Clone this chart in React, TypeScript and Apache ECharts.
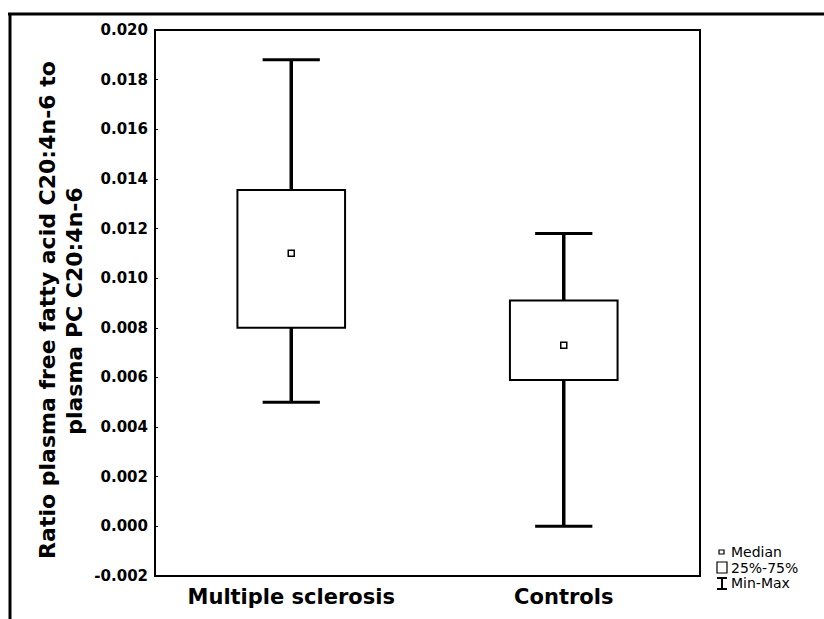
import React, { useEffect, useRef } from "react";
import * as echarts from "echarts";

const categories = ["Multiple sclerosis", "Controls"];
const minValues = [0.005, 0.0];
const q1Values = [0.008, 0.0059];
const medianValues = [0.011, 0.0073];
const q3Values = [0.01355, 0.0091];
const maxValues = [0.0188, 0.0118];
const yTicks = { min: -0.002, max: 0.02, interval: 0.002 };
const yTitleLines = ["Ratio plasma free fatty acid C20:4n-6 to", "plasma PC C20:4n-6"];
const legendLabels = ["Median", "25%-75%", "Min-Max"];

export default function App() {
  const ref = useRef<HTMLDivElement>(null);
  useEffect(() => {
    if (!ref.current) return;
    const chart = echarts.init(ref.current, null, { renderer: "svg" });
    const data = categories.map((_, i) => [i, minValues[i], q1Values[i], medianValues[i], q3Values[i], maxValues[i]]);
    const bold = "DejaVu Sans";
    chart.setOption({
      animation: false,
      backgroundColor: "#fff",
      grid: { left: 155, right: 124, top: 30, bottom: 43, show: true, borderColor: "#000", borderWidth: 2, backgroundColor: "transparent" },
      xAxis: {
        type: "category",
        data: categories,
        boundaryGap: true,
        axisLine: { show: true, onZero: false, lineStyle: { color: "#000", width: 2 } },
        axisTick: { show: false },
        axisLabel: { color: "#000", fontFamily: bold, fontWeight: "bold", fontSize: 21, margin: 10 },
        splitLine: { show: false },
      },
      yAxis: {
        type: "value",
        min: yTicks.min,
        max: yTicks.max,
        interval: yTicks.interval,
        axisLine: { show: true, lineStyle: { color: "#000", width: 2 } },
        axisTick: { show: true, inside: true, length: 3, lineStyle: { color: "#000" } },
        splitLine: { show: false },
        axisLabel: {
          color: "#000",
          fontFamily: bold,
          fontWeight: "bold",
          fontSize: 15,
          margin: 7,
          formatter: (v: number) => (Math.abs(v) < 1e-9 ? "0.000" : v.toFixed(3)),
        },
      },
      series: [
        {
          type: "custom",
          data,
          encode: { x: 0, y: [1, 2, 3, 4, 5] },
          renderItem: (params: any, api: any) => {
            const idx = api.value(0);
            const x = api.coord([idx, 0])[0];
            const band = api.size([1, 0])[0];
            const yMin = api.coord([idx, api.value(1)])[1];
            const yQ1 = api.coord([idx, api.value(2)])[1];
            const yMed = api.coord([idx, api.value(3)])[1];
            const yQ3 = api.coord([idx, api.value(4)])[1];
            const yMax = api.coord([idx, api.value(5)])[1];
            const boxW = band * 0.395;
            const capW = band * 0.21;
            const ms = 6;
            return {
              type: "group",
              children: [
                { type: "line", shape: { x1: x, y1: yMax, x2: x, y2: yQ3 }, style: { stroke: "#000", lineWidth: 3.5 } },
                { type: "line", shape: { x1: x, y1: yQ1, x2: x, y2: yMin }, style: { stroke: "#000", lineWidth: 3.5 } },
                { type: "line", shape: { x1: x - capW / 2, y1: yMax, x2: x + capW / 2, y2: yMax }, style: { stroke: "#000", lineWidth: 3 } },
                { type: "line", shape: { x1: x - capW / 2, y1: yMin, x2: x + capW / 2, y2: yMin }, style: { stroke: "#000", lineWidth: 3 } },
                { type: "rect", shape: { x: x - boxW / 2, y: yQ3, width: boxW, height: yQ1 - yQ3 }, style: { fill: "#fff", stroke: "#000", lineWidth: 2 } },
                { type: "rect", shape: { x: x - ms / 2, y: yMed - ms / 2, width: ms, height: ms }, style: { fill: "#fff", stroke: "#000", lineWidth: 1.5 } },
              ],
            };
          },
        },
      ],
      graphic: [
        { type: "line", shape: { x1: 8, y1: 14, x2: 824, y2: 14 }, style: { stroke: "#000", lineWidth: 3 } },
        { type: "line", shape: { x1: 10, y1: 13, x2: 10, y2: 619 }, style: { stroke: "#000", lineWidth: 3 } },
        {
          type: "text",
          x: 47,
          y: 310,
          rotation: Math.PI / 2,
          style: { text: yTitleLines[0], fontFamily: bold, fontWeight: "bold", fontSize: 22, fill: "#000", textAlign: "center", textVerticalAlign: "middle" },
        },
        {
          type: "text",
          x: 74,
          y: 311,
          rotation: Math.PI / 2,
          style: { text: yTitleLines[1], fontFamily: bold, fontWeight: "bold", fontSize: 22, fill: "#000", textAlign: "center", textVerticalAlign: "middle" },
        },
        // legend
        { type: "rect", shape: { x: 719, y: 550, width: 5, height: 4 }, style: { fill: "#fff", stroke: "#000", lineWidth: 1.2 } },
        { type: "rect", shape: { x: 717, y: 562, width: 10, height: 11 }, style: { fill: "#fff", stroke: "#000", lineWidth: 1.2 } },
        { type: "line", shape: { x1: 722, y1: 578, x2: 722, y2: 589 }, style: { stroke: "#000", lineWidth: 2 } },
        { type: "line", shape: { x1: 717, y1: 578, x2: 727, y2: 578 }, style: { stroke: "#000", lineWidth: 2 } },
        { type: "line", shape: { x1: 717, y1: 589, x2: 727, y2: 589 }, style: { stroke: "#000", lineWidth: 2 } },
        ...legendLabels.map((t, i) => ({
          type: "text",
          x: 731,
          y: 552 + i * 15.5,
          style: { text: t, fontFamily: "DejaVu Sans", fontSize: 14, lineHeight: 15, fill: "#000", textAlign: "left", textVerticalAlign: "middle" },
        })),
      ],
    });
    return () => chart.dispose();
  }, []);
  return <div ref={ref} style={{ width: 824, height: 619, position: "absolute", left: 0, top: 0 }} />;
}
